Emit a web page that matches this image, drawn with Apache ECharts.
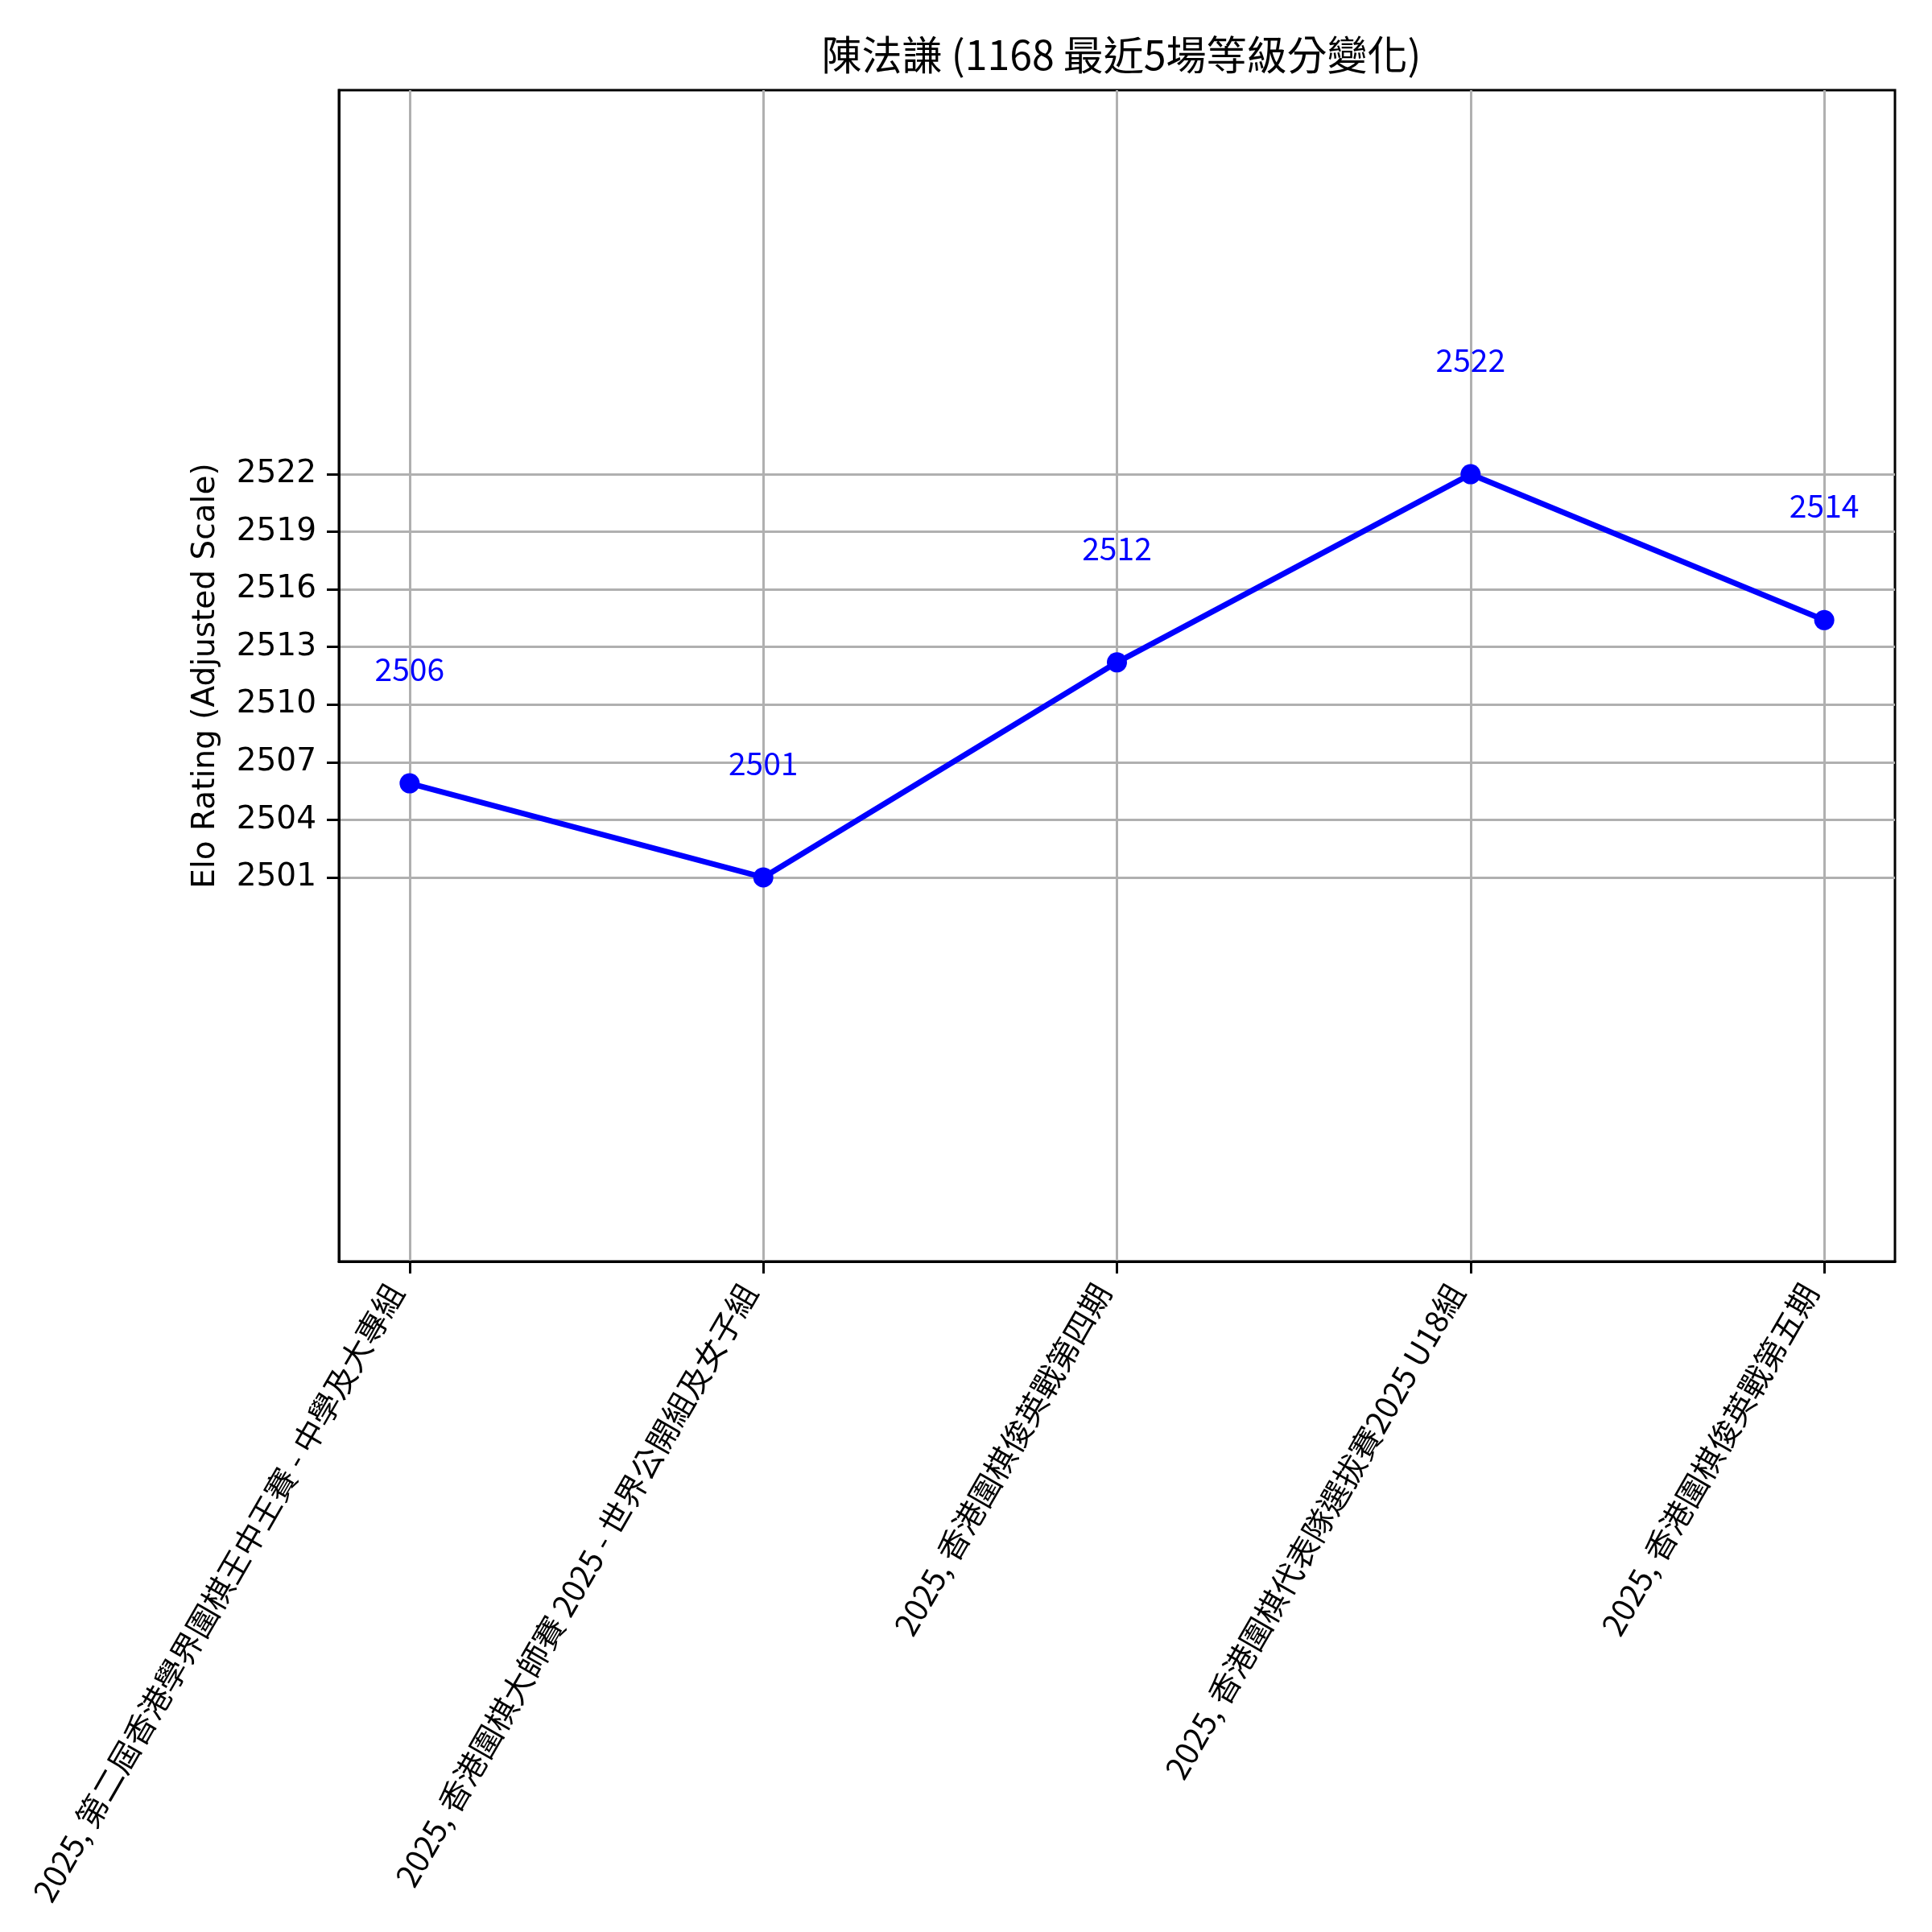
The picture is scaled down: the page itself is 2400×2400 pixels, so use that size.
<!DOCTYPE html>
<html>
<head>
<meta charset="utf-8">
<script src="https://cdn.jsdelivr.net/npm/echarts@6/dist/echarts.min.js"></script>
<style>
html,body{margin:0;padding:0;background:#fff;}
#chart{width:2400px;height:2400px;}
</style>
</head>
<body>
<div id="chart"></div>
<script>
// ---- data ----
const titleText = '陳法謙 (1168 最近5場等級分變化)';
const yAxisTitle = 'Elo Rating (Adjusted Scale)';
const categories = [
  '2025, 第二屆香港學界圍棋王中王賽 - 中學及大專組',
  '2025, 香港圍棋大師賽 2025 - 世界公開組及女子組',
  '2025, 香港圍棋俊英戰第四期',
  '2025, 香港圍棋代表隊選拔賽2025 U18組',
  '2025, 香港圍棋俊英戰第五期'
];
const elo = [2505.9, 2501.0, 2512.2, 2522.0, 2514.4];
const yTicks = [2501, 2504, 2507, 2510, 2513, 2516, 2519, 2522];
const yMin = 2481;
const yMax = 2542;

// ---- chart ----
const CJK = '"Noto Sans CJK TC", "Noto Sans CJK SC", sans-serif';
const LAT = '"DejaVu Sans", sans-serif';
const xIdx = categories.map((c, i) => i);
const seriesData = elo.map((v, i) => [i, v]);

const chart = echarts.init(document.getElementById('chart'), null, {renderer: 'canvas'});
chart.setOption({
  backgroundColor: '#ffffff',
  animation: false,
  title: {
    text: titleText,
    left: 1388,
    textAlign: 'center',
    top: 38,
    textStyle: {fontFamily: CJK, fontSize: 50, fontWeight: 'normal', color: '#000'}
  },
  grid: {
    left: 421, right: 46, top: 112, bottom: 833,
    containLabel: false,
    outerBoundsMode: 'none',
    show: true,
    borderColor: '#000',
    borderWidth: 3,
    backgroundColor: 'transparent'
  },
  xAxis: {
    type: 'value',
    min: -0.2,
    max: 4.2,
    axisLine: {show: true, onZero: false, lineStyle: {color: '#000', width: 3}},
    axisTick: {show: true, customValues: xIdx, length: 15, inside: false, lineStyle: {color: '#000', width: 3}},
    axisLabel: {
      customValues: xIdx,
      rotate: 60,
      margin: 0,
      padding: [0, 36, 0, 0],
      color: '#000',
      fontFamily: CJK,
      fontSize: 39,
      formatter: function (v) { return categories[Math.round(v)]; }
    },
    splitLine: {show: true, lineStyle: {color: '#b0b0b0', width: 3}}
  },
  yAxis: {
    type: 'value',
    min: yMin,
    max: yMax,
    name: yAxisTitle,
    nameLocation: 'middle',
    nameRotate: 90,
    nameGap: 146,
    nameTextStyle: {fontFamily: LAT, fontSize: 39, color: '#000'},
    axisLine: {show: true, onZero: false, lineStyle: {color: '#000', width: 3}},
    axisTick: {show: true, customValues: yTicks, length: 15, inside: false, lineStyle: {color: '#000', width: 3}},
    axisLabel: {
      customValues: yTicks,
      margin: 28,
      color: '#000',
      fontFamily: LAT,
      fontSize: 39,
      formatter: function (v) { return String(Math.round(v)); }
    },
    splitLine: {show: true, lineStyle: {color: '#b0b0b0', width: 3}}
  },
  series: [{
    type: 'line',
    data: seriesData,
    color: '#0000ff',
    lineStyle: {color: '#0000ff', width: 7},
    itemStyle: {color: '#0000ff'},
    symbol: 'circle',
    symbolSize: 25,
    showSymbol: true,
    clip: false,
    z: 5,
    label: {
      show: true,
      position: 'inside',
      offset: [0, -142],
      color: '#0000ff',
      fontFamily: CJK,
      fontSize: 39,
      formatter: function (p) { return String(Math.round(p.value[1])); }
    }
  }]
});
</script>
</body>
</html>
